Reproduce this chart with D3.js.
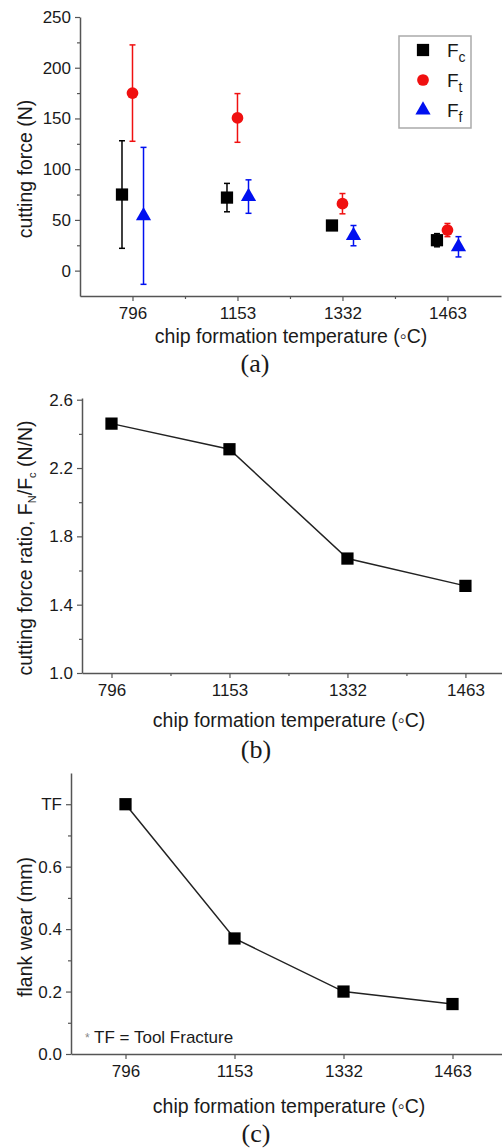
<!DOCTYPE html>
<html>
<head>
<meta charset="utf-8">
<script src="https://cdn.jsdelivr.net/npm/d3@7"></script>
<style>
  body { margin: 0; background: #fff; }
  svg { display: block; }
  text { font-family: "Liberation Sans", Arial, sans-serif; fill: #1a1a1a; }
  .cap { font-family: "Liberation Serif", "Times New Roman", serif; font-size: 26px; }
</style>
</head>
<body>
<svg id="vis" width="502" height="1148"></svg>
<script>
// temperatures on the x axis
var categories = ["796", "1153", "1332", "1463"];

// panel (a) cutting forces, mean and error
var fcMean = [75, 72, 44.5, 30];
var fcErr = [53, 14, 3, 6.5];
var ftMean = [175, 150.5, 66, 40];
var ftErr = [47.5, 24, 10, 6.5];
var ffMean = [54, 73, 34.5, 23.5];
var ffErr = [67.5, 16.5, 10, 10];
var forceTicks = [0, 50, 100, 150, 200, 250];
var forceMinor = [25, 75, 125, 175, 225];

// panel (b) force ratio
var ratio = [2.46, 2.31, 1.67, 1.51];
var ratioTicks = [1.0, 1.4, 1.8, 2.2, 2.6];
var ratioMinor = [1.2, 1.6, 2.0, 2.4];

// panel (c) flank wear, 0.8 stands for tool fracture
var wear = [0.8, 0.37, 0.2, 0.16];
var wearTicks = [0, 0.2, 0.4, 0.6, 0.8];
var wearTickLabels = ["0.0", "0.2", "0.4", "0.6", "TF"];
var wearMinor = [0.1, 0.3, 0.5, 0.7];

var svg = d3.select("#vis");
var axisColor = "#555";
var red = "#f01010", blue = "#0010f0";
var titleSize = "19.5px";

function styleAxis(g) {
    g.selectAll(".domain").attr("stroke", axisColor).attr("stroke-width", 1.5);
    g.selectAll(".tick line").attr("stroke", axisColor).attr("stroke-width", 1.2);
    g.selectAll(".tick text").style("font-size", "17px").attr("fill", "#1a1a1a")
        .style("font-family", "'Liberation Sans', Arial, sans-serif");
}

function drawAxes(x, y, yTicks, yFmt, yMinor, xMinor) {
    var xa = svg.append("g").attr("transform", "translate(0," + y.range()[0] + ")")
        .call(d3.axisBottom(x).tickValues([1, 2, 3, 4]).tickSizeInner(5).tickSizeOuter(0)
            .tickPadding(6).tickFormat(function(d){ return categories[d - 1]; }));
    styleAxis(xa);
    if (xMinor) {
        var xm = svg.append("g").attr("transform", "translate(0," + y.range()[0] + ")")
            .call(d3.axisBottom(x).tickValues(xMinor).tickSize(3).tickFormat(""));
        styleAxis(xm);
        xm.select(".domain").remove();
    }
    var ya = svg.append("g").attr("transform", "translate(" + x.range()[0] + ",0)")
        .call(d3.axisLeft(y).tickValues(yTicks).tickSizeInner(5).tickSizeOuter(0)
            .tickPadding(4).tickFormat(yFmt));
    styleAxis(ya);
    var ym = svg.append("g").attr("transform", "translate(" + x.range()[0] + ",0)")
        .call(d3.axisLeft(y).tickValues(yMinor).tickSize(3).tickFormat(""));
    styleAxis(ym);
    ym.select(".domain").remove();
}

function xTitle(cx, yPos) {
    svg.append("text").attr("x", cx).attr("y", yPos).attr("text-anchor", "middle")
        .style("font-size", titleSize).text("chip formation temperature (\u25E6C)");
}

// ---------- panel (a)
var xA = d3.scaleLinear().domain([0.5, 4.51]).range([80, 501]);
var yA = d3.scaleLinear().domain([-25, 250]).range([296, 17]);
drawAxes(xA, yA, forceTicks, d3.format("d"), forceMinor, [1.5, 2.5, 3.5]);

var forceSeries = [
    {name: "c", mean: fcMean, err: fcErr, color: "#000", sym: d3.symbolSquare, size: 150, off: -0.1},
    {name: "t", mean: ftMean, err: ftErr, color: red, sym: d3.symbolCircle, size: 108, off: 0},
    {name: "f", mean: ffMean, err: ffErr, color: blue, sym: d3.symbolTriangle, size: 100, off: 0.105}
];

forceSeries.forEach(function(s) {
    var g = svg.append("g");
    var pts = s.mean.map(function(m, i){ return {x: i + 1 + s.off, m: m, e: s.err[i]}; });
    g.selectAll("line.err").data(pts).enter().append("line")
        .attr("x1", function(d){ return xA(d.x); }).attr("x2", function(d){ return xA(d.x); })
        .attr("y1", function(d){ return yA(d.m + d.e); }).attr("y2", function(d){ return yA(d.m - d.e); })
        .attr("stroke", s.color).attr("stroke-width", 1.5);
    [1, -1].forEach(function(sg) {
        g.selectAll("line.cap" + sg).data(pts).enter().append("line")
            .attr("x1", function(d){ return xA(d.x) - 3; }).attr("x2", function(d){ return xA(d.x) + 3; })
            .attr("y1", function(d){ return yA(d.m + sg * d.e); }).attr("y2", function(d){ return yA(d.m + sg * d.e); })
            .attr("stroke", s.color).attr("stroke-width", 1.5);
    });
    g.selectAll("path").data(pts).enter().append("path")
        .attr("d", d3.symbol().type(s.sym).size(s.size))
        .attr("transform", function(d){ return "translate(" + xA(d.x) + "," + yA(d.m) + ")"; })
        .attr("fill", s.color);
});

// legend
var leg = svg.append("g").attr("transform", "translate(399,36)");
leg.append("rect").attr("width", 72).attr("height", 92).attr("fill", "#fff")
    .attr("stroke", "#aaa").attr("stroke-width", 1.5);
forceSeries.forEach(function(s, i) {
    var yy = 14 + i * 30;
    leg.append("path").attr("d", d3.symbol().type(s.sym).size(s.size))
        .attr("transform", "translate(24," + yy + ")").attr("fill", s.color);
    var t = leg.append("text").attr("x", 48).attr("y", yy + 7).style("font-size", "19px");
    t.append("tspan").text("F");
    t.append("tspan").attr("dy", 5).style("font-size", "14px").text(s.name);
});

svg.append("text").attr("transform", "translate(32,169) rotate(-90)").attr("text-anchor", "middle")
    .style("font-size", titleSize).text("cutting force (N)");
xTitle(291, 343);
svg.append("text").attr("class", "cap").attr("x", 255).attr("y", 372).attr("text-anchor", "middle").text("(a)");

// ---------- panel (b)
var xB = d3.scaleLinear().domain([0.75, 4.31]).range([82, 502]);
var yB = d3.scaleLinear().domain([1.0, 2.61]).range([673, 398]);
drawAxes(xB, yB, ratioTicks, d3.format(".1f"), ratioMinor, [1.5, 2.5, 3.5]);

var lineB = d3.line().x(function(d, i){ return xB(i + 1); }).y(function(d){ return yB(d); });
svg.append("path").datum(ratio).attr("d", lineB).attr("fill", "none")
    .attr("stroke", "#222").attr("stroke-width", 1.5);
svg.selectAll("path.mb").data(ratio).enter().append("path").attr("class", "mb")
    .attr("d", d3.symbol().type(d3.symbolSquare).size(150))
    .attr("transform", function(d, i){ return "translate(" + xB(i + 1) + "," + yB(d) + ")"; })
    .attr("fill", "#000");

var yLabB = svg.append("text").attr("transform", "translate(32,548) rotate(-90)")
    .attr("text-anchor", "middle").style("font-size", titleSize);
yLabB.append("tspan").text("cutting force ratio, F");
yLabB.append("tspan").attr("dy", 4).style("font-size", "11px").text("N");
yLabB.append("tspan").attr("dy", -4).text("/F");
yLabB.append("tspan").attr("dy", 4).style("font-size", "11px").text("c");
yLabB.append("tspan").attr("dy", -4).text(" (N/N)");
xTitle(289, 727);
svg.append("text").attr("class", "cap").attr("x", 256).attr("y", 758).attr("text-anchor", "middle").text("(b)");

// ---------- panel (c)
var xC = d3.scaleLinear().domain([0.5, 4.5]).range([71, 507]);
var yC = d3.scaleLinear().domain([0, 0.9]).range([1054, 773]);
drawAxes(xC, yC, wearTicks, function(d, i){ return wearTickLabels[i]; }, wearMinor, null);

var lineC = d3.line().x(function(d, i){ return xC(i + 1); }).y(function(d){ return yC(d); });
svg.append("path").datum(wear).attr("d", lineC).attr("fill", "none")
    .attr("stroke", "#222").attr("stroke-width", 1.5);
svg.selectAll("path.mc").data(wear).enter().append("path").attr("class", "mc")
    .attr("d", d3.symbol().type(d3.symbolSquare).size(150))
    .attr("transform", function(d, i){ return "translate(" + xC(i + 1) + "," + yC(d) + ")"; })
    .attr("fill", "#000");

var note = svg.append("text").attr("x", 85).attr("y", 1043).style("font-size", "17px");
note.append("tspan").attr("fill", "#888").style("font-size", "12px").attr("dy", -1).text("*");
note.append("tspan").attr("dy", 1).text(" TF = Tool Fracture");

svg.append("text").attr("transform", "translate(32,927) rotate(-90)").attr("text-anchor", "middle")
    .style("font-size", titleSize).text("flank wear (mm)");
xTitle(289, 1113);
svg.append("text").attr("class", "cap").attr("x", 256).attr("y", 1142).attr("text-anchor", "middle").text("(c)");
</script>
</body>
</html>
